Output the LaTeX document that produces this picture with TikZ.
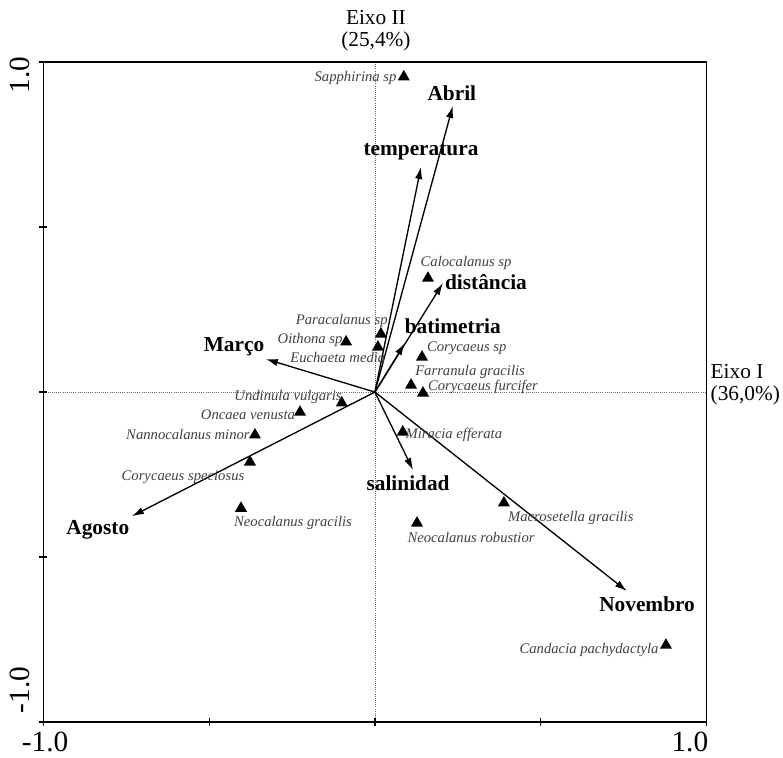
\documentclass[tikz,border=0pt]{standalone}
\usepackage{fontspec}
\setmainfont{Liberation Serif}
\usetikzlibrary{arrows.meta,shapes.geometric}

\tikzset{
  vec/.style={-{Latex[length=9pt,width=5.5pt]}, line width=1pt},
  spmark/.style={regular polygon, regular polygon sides=3, fill=black, inner sep=0pt, minimum size=10.5pt},
  spname/.style={font=\fontsize{11}{12}\selectfont\itshape, text=black!75, inner sep=0pt},
  varname/.style={font=\fontsize{16}{18}\selectfont\bfseries, inner sep=0pt},
  axname/.style={font=\fontsize{16}{16.5}\selectfont, inner sep=0pt},
  ticklab/.style={font=\fontsize{22}{24}\selectfont, inner sep=0pt}
}

\begin{document}
\begin{tikzpicture}[x=248.6pt, y=247.5pt]
    \useasboundingbox (-1.131,-1.106) rectangle (1.231,1.188);

    %% frame, dotted axes and ticks
    \coordinate (O) at (0,0);
    \coordinate (axL) at (-1,0);
    \coordinate (axR) at (1,0);
    \coordinate (axB) at (0,-1);
    \coordinate (axT) at (0,1);
    \draw[black!60, densely dotted, line width=0.6pt] (axL) -- (axR);
    \draw[black!60, densely dotted, line width=0.6pt] (axB) -- (axT);
    \draw[line width=1pt] (-1,-1) rectangle (1,1);
    \foreach \t in {-1,-0.5,0,0.5,1} {
        \draw[line width=1pt] (\t,-1) ++(0,-3pt) -- ++(0,6pt);
        \draw[line width=1pt] (-1,\t) ++(-3pt,0) -- ++(6pt,0);
    }

    %% tick labels and axis names
    \node[ticklab, rotate=90] (ylab1) at (-1.071,0.961) {1.0};
    \node[ticklab, rotate=90] (ylab2) at (-1.071,-0.903) {-1.0};
    \node[ticklab] (xlab1) at (-0.995,-1.060) {-1.0};
    \node[ticklab] (xlab2) at (0.950,-1.060) {1.0};
    \node[axname, align=center] (axII) at (0.003,1.094) {Eixo II\\(25,4\%)};
    \node[axname, align=left, anchor=west] (axI) at (1.012,0.021) {Eixo I\\(36,0\%)};

    %% environmental vectors
    \coordinate (abril) at (0.235,0.867);
    \coordinate (temp) at (0.139,0.682);
    \coordinate (dist) at (0.205,0.330);
    \coordinate (bati) at (0.090,0.148);
    \coordinate (marco) at (-0.329,0.100);
    \coordinate (agosto) at (-0.733,-0.376);
    \coordinate (nov) at (0.760,-0.603);
    \coordinate (sal) at (0.115,-0.236);
    \draw[vec] (O) -- (abril);
    \draw[vec] (O) -- (temp);
    \draw[vec] (O) -- (dist);
    \draw[vec] (O) -- (bati);
    \draw[vec] (O) -- (marco);
    \draw[vec] (O) -- (agosto);
    \draw[vec] (O) -- (nov);
    \draw[vec] (O) -- (sal);
    \node[varname] (labril) at (0.232,0.906) {Abril};
    \node[varname] (ltemp) at (0.139,0.727) {temperatura};
    \node[varname] (ldist) at (0.335,0.333) {distância};
    \node[varname] (lbati) at (0.235,0.201) {batimetria};
    \node[varname] (lmarco) at (-0.425,0.136) {Março};
    \node[varname] (lagosto) at (-0.836,-0.418) {Agosto};
    \node[varname] (lnov) at (0.821,-0.642) {Novembro};
    \node[varname] (lsal) at (0.100,-0.276) {salinidad};

    %% species
    \node[spmark] (sapp) at (0.087,0.955) {};
    \node[spname, anchor=east] (lsapp) at (0.066,0.952) {Sapphirina sp};
    \node[spmark] (calo) at (0.160,0.345) {};
    \node[spname] (lcalo) at (0.275,0.391) {Calocalanus sp};
    \node[spmark] (para) at (0.018,0.176) {};
    \node[spname] (lpara) at (-0.100,0.215) {Paracalanus sp};
    \node[spmark] (oith) at (-0.087,0.152) {};
    \node[spname, anchor=east] (loith) at (-0.097,0.158) {Oithona sp};
    \node[spmark] (euch) at (0.009,0.136) {};
    \node[spname] (leuch) at (-0.112,0.106) {Euchaeta media};
    \node[spmark] (corsp) at (0.142,0.106) {};
    \node[spname] (lcorsp) at (0.277,0.132) {Corycaeus sp};
    \node[spmark] (farr) at (0.109,0.021) {};
    \node[spname] (lfarr) at (0.287,0.061) {Farranula gracilis};
    \node[spmark] (corfu) at (0.145,-0.003) {};
    \node[spname] (lcorfu) at (0.326,0.015) {Corycaeus furcifer};
    \node[spmark] (undi) at (-0.100,-0.033) {};
    \node[spname] (lundi) at (-0.262,-0.015) {Undinula vulgaris};
    \node[spmark] (onca) at (-0.226,-0.061) {};
    \node[spname] (lonca) at (-0.383,-0.070) {Oncaea venusta};
    \node[spmark] (nann) at (-0.362,-0.130) {};
    \node[spname, anchor=east] (lnann) at (-0.377,-0.130) {Nannocalanus minor};
    \node[spmark] (corspe) at (-0.377,-0.212) {};
    \node[spname] (lcorspe) at (-0.579,-0.258) {Corycaeus speciosus};
    \node[spmark] (neogr) at (-0.404,-0.352) {};
    \node[spname] (lneogr) at (-0.247,-0.397) {Neocalanus gracilis};
    \node[spmark] (mira) at (0.084,-0.121) {};
    \node[spname] (lmira) at (0.238,-0.130) {Miracia efferata};
    \node[spmark] (macr) at (0.389,-0.336) {};
    \node[spname] (lmacr) at (0.591,-0.382) {Macrosetella gracilis};
    \node[spmark] (neoro) at (0.127,-0.397) {};
    \node[spname] (lneoro) at (0.290,-0.442) {Neocalanus robustior};
    \node[spmark] (cand) at (0.878,-0.767) {};
    \node[spname] (lcand) at (0.646,-0.782) {Candacia pachydactyla};
\end{tikzpicture}
\end{document}
